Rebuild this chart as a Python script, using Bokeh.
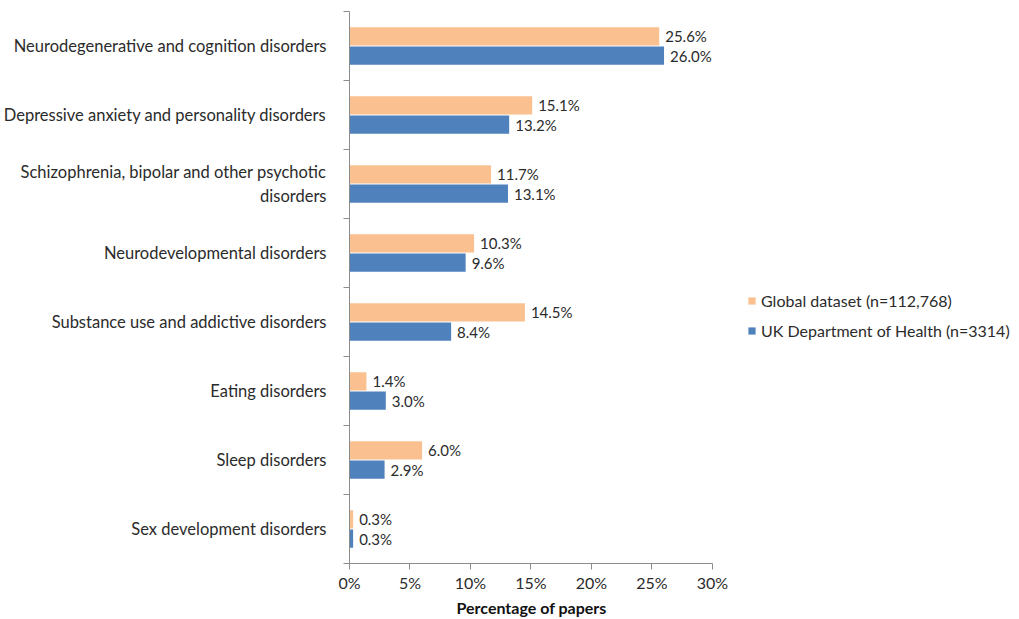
from bokeh.plotting import figure
from bokeh.models import ColumnDataSource, FixedTicker, Legend, LegendItem, Range1d, Title
from bokeh.transform import dodge
from bokeh.core.properties import value
from bokeh.embed import file_html
from bokeh.resources import INLINE

categories = [
    "Neurodegenerative and cognition disorders",
    "Depressive anxiety and personality disorders",
    "Schizophrenia, bipolar and other psychotic\ndisorders",
    "Neurodevelopmental disorders",
    "Substance use and addictive disorders",
    "Eating disorders",
    "Sleep disorders",
    "Sex development disorders",
]
global_vals = [25.6, 15.1, 11.7, 10.3, 14.5, 1.4, 6.0, 0.3]
uk_vals = [26.0, 13.2, 13.1, 9.6, 8.4, 3.0, 2.9, 0.3]
series_names = ["Global dataset (n=112,768)", "UK Department of Health (n=3314)"]
x_ticks = [0, 5, 10, 15, 20, 25, 30]
x_tick_labels = ["0%", "5%", "10%", "15%", "20%", "25%", "30%"]
x_title = "Percentage of papers"

FONT = "Lato"
ORANGE = "#FAC090"
BLUE = "#4F81BD"
TXT = "#2b2b2b"
AXIS = "#8c8c8c"

# layout (pixels)
W, H = 1019, 617
LEFT, RIGHT, TOP, BOTTOM = 347, 0, 11, 50
AXIS_PX = 364           # pixel length of the 0-30% axis
frame_w = W - LEFT - RIGHT
x_max = x_ticks[-1] * frame_w / AXIS_PX

n = len(categories)
centers = [n - i - 0.5 for i in range(n)]

src = ColumnDataSource(dict(
    y=centers,
    g=global_vals,
    u=uk_vals,
    gl=[f"{v:.1f}%" for v in global_vals],
    ul=[f"{v:.1f}%" for v in uk_vals],
))

p = figure(width=W, height=H, output_backend="svg", toolbar_location=None,
           x_range=Range1d(0, x_max), y_range=Range1d(0, n),
           min_border_left=LEFT, min_border_top=TOP, min_border_bottom=BOTTOM,
           min_border_right=RIGHT)
p.outline_line_color = None
p.xgrid.visible = False
p.ygrid.visible = False

off = 0.14
bh = 0.265
rg = p.hbar(y=dodge("y", off, range=p.y_range), left=0, right="g", height=bh,
            source=src, fill_color=ORANGE, line_color=None)
ru = p.hbar(y=dodge("y", -off, range=p.y_range), left=0, right="u", height=bh,
            source=src, fill_color=BLUE, line_color=None)

for col, lab, o in (("g", "gl", off), ("u", "ul", -off)):
    p.text(x=col, y=dodge("y", o, range=p.y_range), text=lab, source=src,
           x_offset=6, text_baseline="middle", text_align="left",
           text_font=value(FONT), text_font_size="15px", text_color=TXT)

# y axis
ya = p.yaxis[0]
ya.ticker = FixedTicker(ticks=centers, minor_ticks=list(range(n + 1)))
ya.major_label_overrides = {c: cat for c, cat in zip(centers, categories)}
ya.major_tick_in = 0
ya.major_tick_out = 0
ya.minor_tick_in = 0
ya.minor_tick_out = 6
ya.minor_tick_line_color = AXIS
ya.axis_line_color = AXIS
ya.major_label_standoff = 17
ya.major_label_text_font = FONT
ya.major_label_text_font_size = "16.5px"
ya.major_label_text_color = TXT

# x axis
xa = p.xaxis[0]
xa.bounds = (x_ticks[0], x_ticks[-1])
xa.ticker = FixedTicker(ticks=x_ticks)
xa.major_label_overrides = {t: l for t, l in zip(x_ticks, x_tick_labels)}
xa.major_tick_in = 0
xa.major_tick_out = 6
xa.minor_tick_line_color = None
xa.major_tick_line_color = AXIS
xa.axis_line_color = AXIS
xa.major_label_standoff = 3
xa.major_label_text_font = FONT
xa.major_label_text_font_size = "16px"
xa.major_label_text_color = TXT

# axis title, centred under the 0-30% span
p.add_layout(Title(text=x_title, align="left", offset=107, standoff=2,
                   text_font=FONT, text_font_size="16px", text_font_style="bold",
                   text_color="#111111"), "below")

legend = Legend(items=[LegendItem(label=series_names[0], renderers=[rg]),
                       LegendItem(label=series_names[1], renderers=[ru])],
                location=(398, 223))
legend.border_line_color = None
legend.background_fill_alpha = 0
legend.label_text_font = FONT
legend.label_text_font_size = "16px"
legend.label_text_color = TXT
legend.glyph_width = 9
legend.glyph_height = 9
legend.spacing = 11
legend.label_standoff = 5
p.add_layout(legend, "center")

open("out.html", "w").write(file_html(p, INLINE))
